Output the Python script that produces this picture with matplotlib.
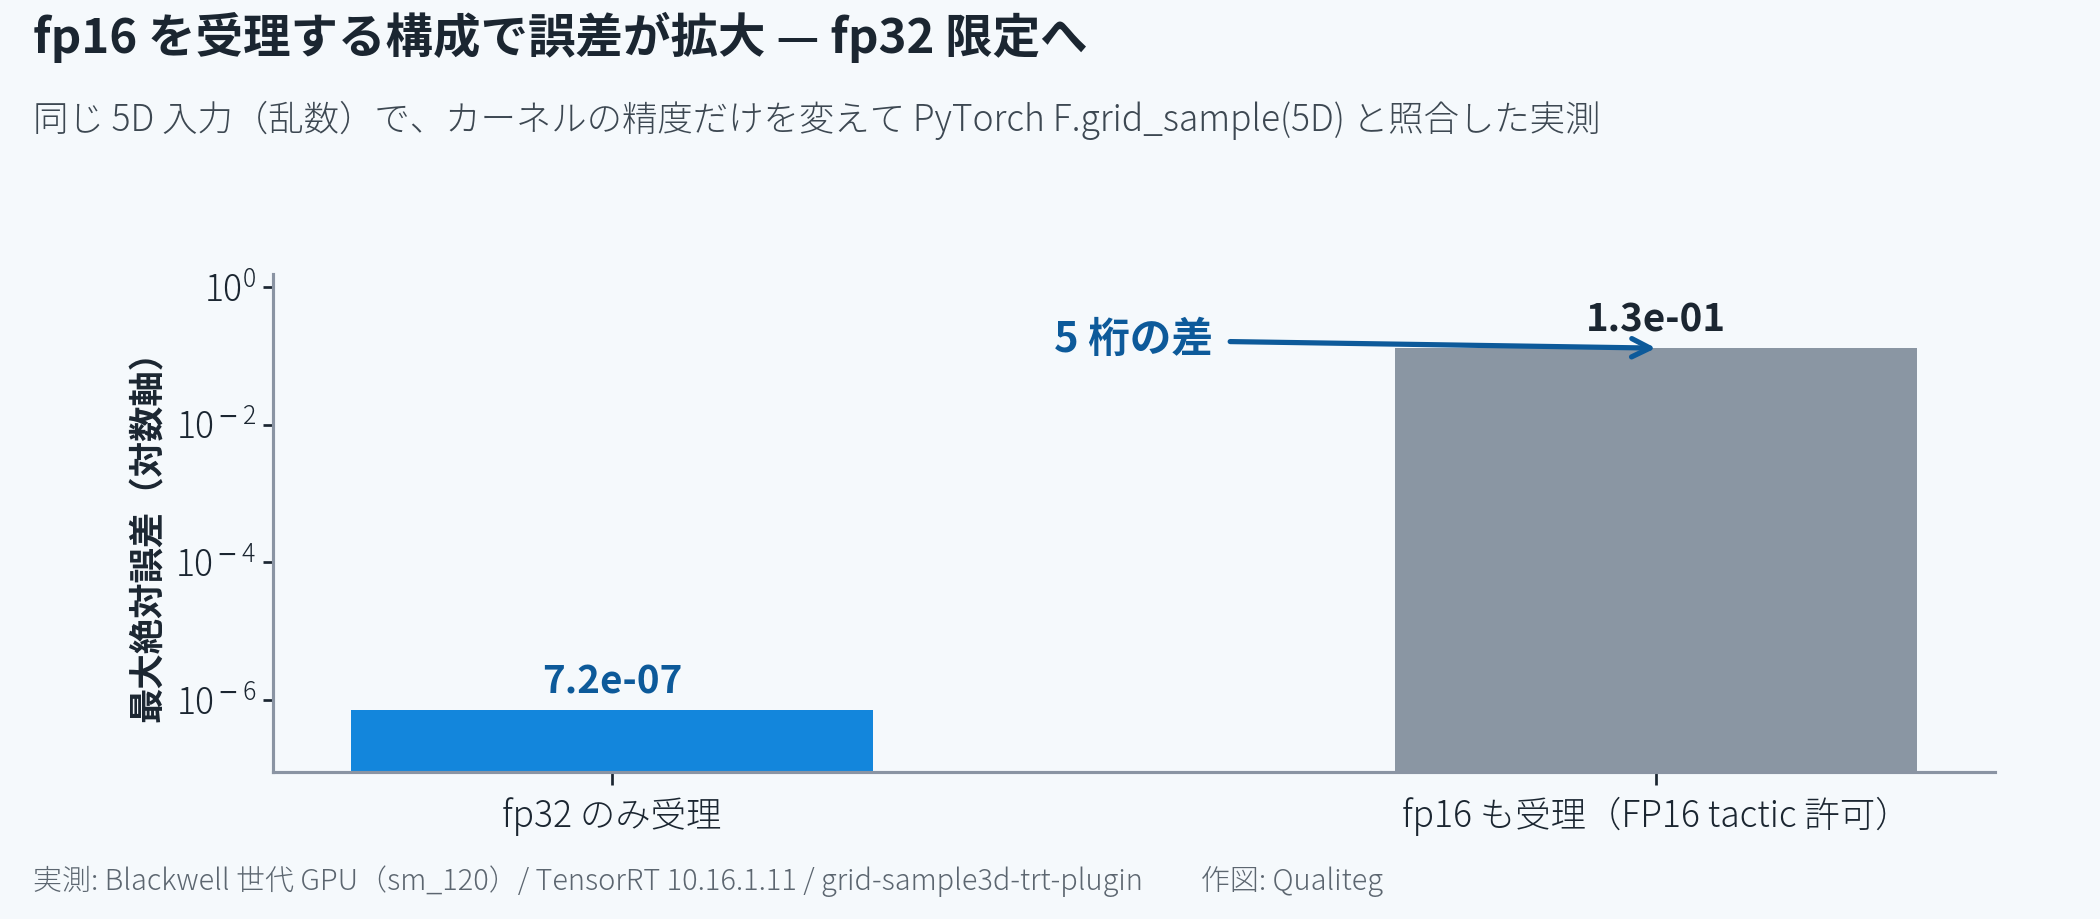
import matplotlib
matplotlib.use("Agg")
import numpy as np
import matplotlib.pyplot as plt
from matplotlib.ticker import LogLocator, NullLocator, FuncFormatter

plt.rcParams['font.family'] = ['Noto Sans CJK JP', 'DejaVu Sans']
plt.rcParams['mathtext.fontset'] = 'custom'
plt.rcParams['mathtext.rm'] = 'Noto Sans CJK JP:light'
plt.rcParams['mathtext.it'] = 'Noto Sans CJK JP:light'
plt.rcParams['mathtext.bf'] = 'Noto Sans CJK JP:bold'
plt.rcParams['mathtext.sf'] = 'DejaVu Sans'

# data
categories = ["fp32 のみ受理", "fp16 も受理（FP16 tactic 許可）"]
max_abs_err = [7.2e-07, 1.3e-01]
value_labels = ["7.2e-07", "1.3e-01"]

BG = "#f5f9fc"
bar_colors = ["#1386dc", "#8a96a3"]
label_colors = ["#0d5a9a", "#1b2631"]
dark = "#1b2631"
spine_col = "#8a94a3"


def pow10(v, pos):
    e = int(round(np.log10(v)))
    if e < 0:
        return "$10^{\\,\\mathsf{-}\\,%d}$" % (-e)
    return "$10^{%d}$" % e


fig = plt.figure(figsize=(14, 919 / 150), dpi=150, facecolor=BG)
ax = fig.add_axes([0.130, 0.160, 0.820, 0.542], facecolor=BG)

x = list(range(len(categories)))
ax.bar(x, max_abs_err, width=0.5, color=bar_colors, zorder=2)
ax.set_yscale("log")
ax.set_ylim(9e-8, 1.56)
ax.yaxis.set_major_locator(LogLocator(base=100))
ax.yaxis.set_minor_locator(NullLocator())
ax.yaxis.set_major_formatter(FuncFormatter(pow10))

ax.set_xticks(x)
ax.set_xticklabels(categories, fontsize=17, color=dark, fontweight="light")
ax.tick_params(axis="y", labelsize=17, colors=dark, length=5, width=1.3, pad=3)
ax.tick_params(axis="x", length=6, width=1.3, colors=dark, pad=6)
for s in ["top", "right"]:
    ax.spines[s].set_visible(False)
for s in ["left", "bottom"]:
    ax.spines[s].set_color(spine_col)
    ax.spines[s].set_linewidth(1.5)

ax.set_ylabel("最大絶対誤差（対数軸）", fontsize=17, fontweight="bold", color=dark)
ax.yaxis.set_label_coords(-0.062, 0.49)

for xi, v, lab, c in zip(x, max_abs_err, value_labels, label_colors):
    ax.annotate(lab, (xi, v), xytext=(0, 4), textcoords="offset points",
                ha="center", va="bottom", fontsize=18.5, fontweight="bold", color=c)

ax.annotate("5 桁の差", xy=(1, max_abs_err[1]), xytext=(0.5, 0.17),
            ha="center", va="center", fontsize=20, fontweight="bold", color="#0d5a9a",
            arrowprops=dict(arrowstyle="->", color="#0d5a9a", lw=2.5,
                            mutation_scale=22, shrinkA=6, shrinkB=0))

fig.text(33 / 2100, 1 - 37 / 919, "fp16 を受理する構成で誤差が拡大 — fp32 限定へ",
         fontsize=22.8, fontweight="bold", color=dark, ha="left", va="center")
fig.text(33 / 2100, 1 - 120 / 919,
         "同じ 5D 入力（乱数）で、カーネルの精度だけを変えて PyTorch F.grid_sample(5D) と照合した実測",
         fontsize=17, color="#3d4852", ha="left", va="center", fontweight="light")
fig.text(33 / 2100, 1 - 881 / 919,
         "実測: Blackwell 世代 GPU（sm_120）/ TensorRT 10.16.1.11 / grid-sample3d-trt-plugin　　作図: Qualiteg",
         fontsize=13.9, color="#5c6670", ha="left", va="center", fontweight="light")

fig.savefig("out.png", dpi=150, facecolor=BG)
